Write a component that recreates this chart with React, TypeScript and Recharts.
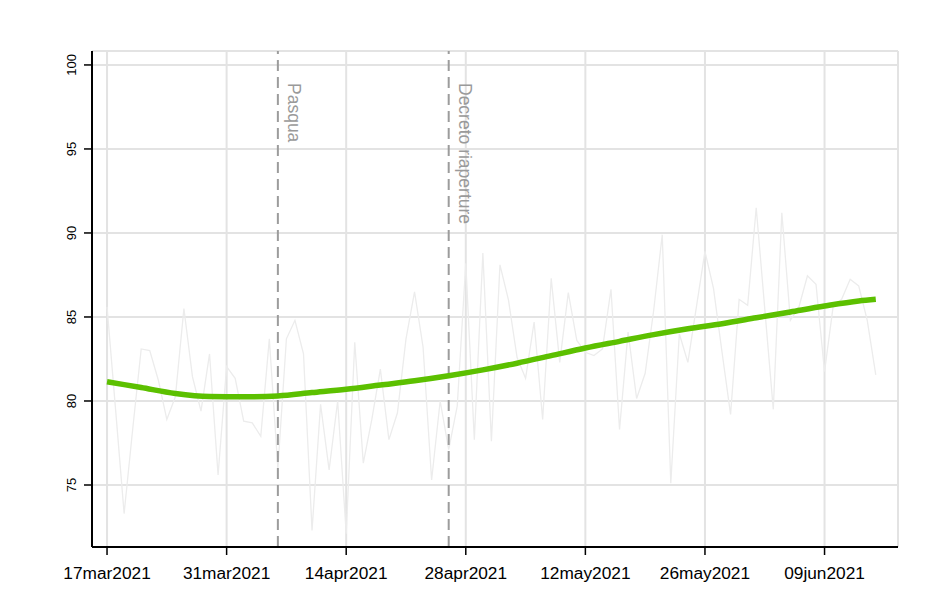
import React from "react";
import {
  ComposedChart,
  Line,
  XAxis,
  YAxis,
  CartesianGrid,
  ReferenceLine,
} from "recharts";

// day index 0 = 17mar2021
const tickDays = [0, 14, 28, 42, 56, 70, 84];
const tickLabels = [
  "17mar2021",
  "31mar2021",
  "14apr2021",
  "28apr2021",
  "12may2021",
  "26may2021",
  "09jun2021",
];
const yTicks = [75, 80, 85, 90, 95, 100];

const dailyValues = [
  85.6, 79.5, 73.3, 78.3, 83.1, 83.0, 81.25, 78.9, 80.25, 85.5,
  81.45, 79.4, 82.8, 75.6, 82.05, 81.35, 78.8, 78.7, 77.9, 83.7,
  76.0, 83.7, 84.8, 82.8, 72.3, 79.8, 75.9, 80.0, 72.1, 83.5,
  76.3, 78.9, 81.9, 77.7, 79.3, 83.7, 86.5, 83.2, 75.3, 80.0,
  77.1, 79.7, 88.2, 77.7, 88.8, 77.6, 88.1, 86.0, 82.6, 81.35,
  84.7, 78.9, 87.3, 82.3, 86.45, 83.6, 82.9, 82.7, 83.1, 86.65,
  78.3, 84.1, 80.15, 81.65, 85.4, 89.9, 75.1, 84.0, 82.3, 85.6,
  88.9, 86.7, 82.9, 79.2, 86.05, 85.7, 91.5, 85.5, 79.5, 91.2,
  84.8, 85.6, 87.45, 86.95, 81.75, 85.6, 86.05, 87.25, 86.85, 84.8,
  81.55,
];

const smoothDays = [0, 4, 8, 12, 16, 20, 24, 28, 32, 36, 40, 44, 48, 52, 56, 60, 64, 68, 72, 76, 80, 84, 88, 90];
const smoothValues = [
  81.15, 80.8, 80.45, 80.27, 80.25, 80.3, 80.5, 80.7, 80.95, 81.2, 81.5, 81.85,
  82.25, 82.7, 83.15, 83.55, 83.95, 84.3, 84.6, 84.95, 85.3, 85.65, 85.95, 86.05,
];

const eventDays = [20, 40];
const eventLabels = ["Pasqua", "Decreto riaperture"];

const dailyData = dailyValues.map((v, i) => ({ day: i, value: v }));
const smoothData = smoothDays.map((d, i) => ({ day: d, value: smoothValues[i] }));

const FONT = "'Liberation Sans', Arial, sans-serif";

const YTick = (props: any) => {
  const { x, y, payload } = props;
  return (
    <text
      x={x}
      y={y}
      transform={`rotate(-90, ${x}, ${y})`}
      textAnchor="middle"
      fontSize={13}
      fontFamily={FONT}
      fill="#000"
    >
      {payload.value}
    </text>
  );
};

const EventLabel = (props: any) => {
  const { viewBox, text } = props;
  const bx = viewBox.x + 10.5;
  const by = viewBox.y + 32;
  return (
    <text
      x={bx}
      y={by}
      transform={`rotate(90, ${bx}, ${by})`}
      textAnchor="start"
      fontSize={17.5}
      fontFamily={FONT}
      fill="#9a9a9a"
    >
      {text}
    </text>
  );
};

const App: React.FC = () => {
  return (
    <ComposedChart
      width={935}
      height={593}
      margin={{ top: 43, right: 45, left: 0, bottom: 24 }}
    >
      <CartesianGrid stroke="#e3e3e3" strokeWidth={2} />
      <XAxis
        dataKey="day"
        type="number"
        domain={[-1.76, 92.6]}
        allowDataOverflow
        ticks={tickDays}
        tickFormatter={(v: number) => tickLabels[tickDays.indexOf(v)] ?? ""}
        height={30}
        tickSize={8}
        tickMargin={12}
        axisLine={{ stroke: "#000", strokeWidth: 2 }}
        tickLine={{ stroke: "#000", strokeWidth: 1.5 }}
        tick={{ fill: "#000", fontSize: 17.3, fontFamily: FONT }}
        interval={0}
      />
      <XAxis
        xAxisId="top"
        orientation="top"
        type="number"
        domain={[-1.76, 92.6]}
        height={0}
        tick={false}
        tickLine={false}
        axisLine={{ stroke: "#000", strokeWidth: 2 }}
      />
      <YAxis
        type="number"
        domain={[71.31, 100.83]}
        allowDataOverflow
        ticks={yTicks}
        width={84}
        tickSize={8}
        tickMargin={8}
        axisLine={{ stroke: "#000", strokeWidth: 2 }}
        tickLine={{ stroke: "#000", strokeWidth: 1.5 }}
        tick={<YTick />}
        interval={0}
      />
      <YAxis
        yAxisId="right"
        orientation="right"
        type="number"
        domain={[71.31, 100.83]}
        width={0}
        tick={false}
        tickLine={false}
        axisLine={{ stroke: "#000", strokeWidth: 2 }}
      />
      <Line
        data={dailyData}
        dataKey="value"
        type="linear"
        stroke="#ececec"
        strokeWidth={1.3}
        dot={false}
        activeDot={false}
        isAnimationActive={false}
      />
      {eventDays.map((d, i) => (
        <ReferenceLine
          key={d}
          x={d}
          stroke="#9c9c9c"
          strokeWidth={2}
          strokeDasharray="11 6"
          label={<EventLabel text={eventLabels[i]} />}
        />
      ))}
      <Line
        data={smoothData}
        dataKey="value"
        type="monotone"
        stroke="#5cc000"
        strokeWidth={5.5}
        dot={false}
        activeDot={false}
        isAnimationActive={false}
      />
    </ComposedChart>
  );
};

export default App;
